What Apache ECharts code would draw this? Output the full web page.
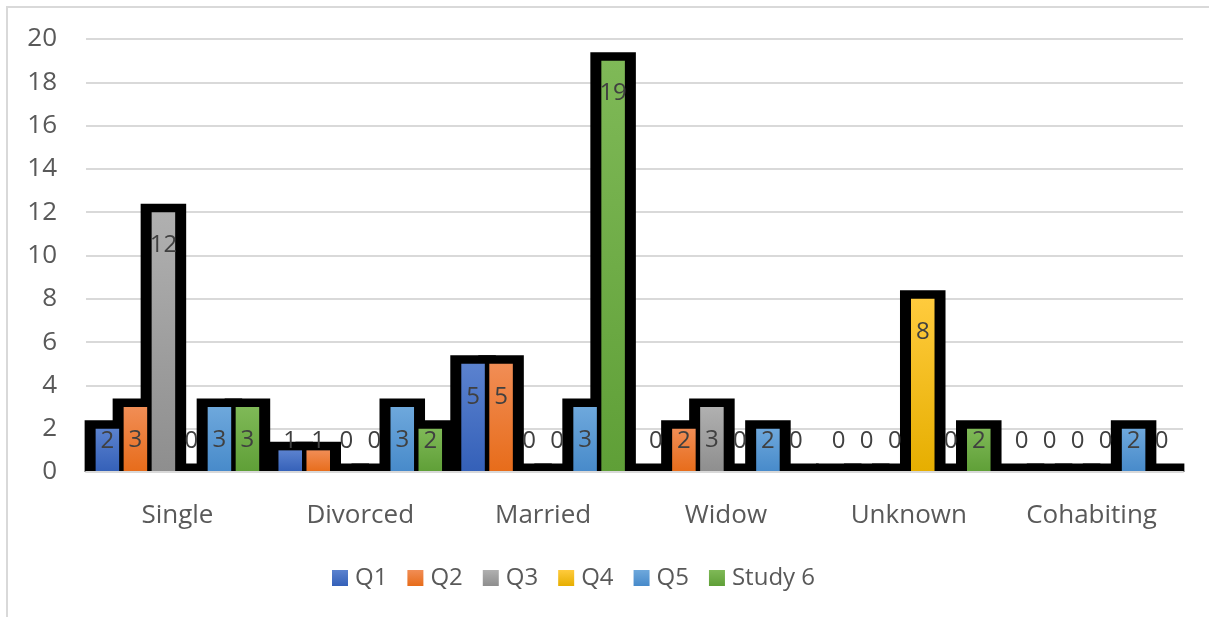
<!DOCTYPE html>
<html>
<head>
<meta charset="utf-8">
<script src="https://cdn.jsdelivr.net/npm/echarts@6/dist/echarts.min.js"></script>
<style>
html,body{margin:0;padding:0;background:#fff;}
#chart{width:1209px;height:617px;}
</style>
</head>
<body>
<div id="chart"></div>
<script>
var categories = ['Single', 'Divorced', 'Married', 'Widow', 'Unknown', 'Cohabiting'];
var seriesNames = ['Q1', 'Q2', 'Q3', 'Q4', 'Q5', 'Study 6'];
var q1 = [2, 1, 5, 0, 0, 0];
var q2 = [3, 1, 5, 2, 0, 0];
var q3 = [12, 0, 0, 3, 0, 0];
var q4 = [0, 0, 0, 0, 8, 0];
var q5 = [3, 3, 3, 2, 0, 2];
var study6 = [3, 2, 19, 0, 2, 0];
var yTicks = [0, 2, 4, 6, 8, 10, 12, 14, 16, 18, 20];

var allValues = [q1, q2, q3, q4, q5, study6];
var gradTop = ['#5b82cf', '#f18d55', '#b0b0b0', '#ffcb3d', '#6ea8dc', '#7fb957'];
var gradBot = ['#3460b8', '#e76c1a', '#8e8e8e', '#e6ae00', '#478aca', '#5f9f37'];
var FONT = '"Open Sans", sans-serif';

function grad(i) {
  return {type: 'linear', x: 0, y: 0, x2: 0, y2: 1,
    colorStops: [{offset: 0, color: gradTop[i]}, {offset: 1, color: gradBot[i]}]};
}

function makeRender(s) {
  return function (params, api) {
    var ci = api.value(0), v = api.value(1);
    var base = api.coord([ci, 0]);
    var top = api.coord([ci, v]);
    var W = api.size([1, 0])[0];
    var pitch = W * 0.1532;
    var cx = base[0] + (s - 2.5) * pitch;
    var bw = pitch * 0.84;
    var children = [];
    children.push({
      type: 'rect', z2: 0,
      shape: {x: cx - bw / 2 - 11, y: top[1] - 8.5, width: bw + 22, height: base[1] - top[1] + 8.5},
      style: {fill: '#000'}
    });
    if (v > 0) {
      children.push({
        type: 'rect', z2: 10,
        shape: {x: cx - bw / 2, y: top[1], width: bw, height: base[1] - top[1]},
        style: {fill: grad(s)}
      });
    }
    children.push({
      type: 'text', z2: 20,
      x: cx, y: Math.min(top[1] + 33, base[1] - 31),
      style: {text: String(v), align: 'center', verticalAlign: 'middle',
        fill: '#404040', font: '24px ' + FONT}
    });
    return {type: 'group', children: children};
  };
}

var series = seriesNames.map(function (name, s) {
  return {
    name: name,
    type: 'custom',
    renderItem: makeRender(s),
    encode: {x: 0, y: 1},
    itemStyle: {color: grad(s)},
    data: allValues[s].map(function (v, ci) { return [ci, v]; })
  };
});

var chart = echarts.init(document.getElementById('chart'));
chart.setOption({
  animation: false,
  backgroundColor: '#fff',
  textStyle: {fontFamily: FONT},
  graphic: [{
    type: 'rect', z: -10,
    shape: {x: 7, y: 7, width: 1220, height: 620},
    style: {fill: 'none', stroke: '#d9d9d9', lineWidth: 2}
  }],
  grid: {left: 86, right: 26, top: 39, bottom: 145},
  xAxis: {
    type: 'category',
    data: categories,
    boundaryGap: true,
    z: 5,
    axisLine: {show: true, lineStyle: {color: '#d9d9d9', width: 2}},
    axisTick: {show: false},
    axisLabel: {color: '#595959', fontSize: 26, margin: 31, fontFamily: FONT}
  },
  yAxis: {
    type: 'value',
    min: yTicks[0],
    max: yTicks[yTicks.length - 1],
    interval: 2,
    axisLine: {show: false},
    axisTick: {show: false},
    splitLine: {lineStyle: {color: '#d9d9d9', width: 2}},
    axisLabel: {color: '#595959', fontSize: 26, margin: 29, fontFamily: FONT}
  },
  legend: {
    data: seriesNames,
    left: 332,
    top: 566,
    padding: 0,
    itemWidth: 16,
    itemHeight: 16,
    itemGap: 20,
    icon: 'rect',
    textStyle: {color: '#595959', fontSize: 24, fontFamily: FONT, padding: [0, 0, 0, 2]}
  },
  series: series
});
</script>
</body>
</html>
